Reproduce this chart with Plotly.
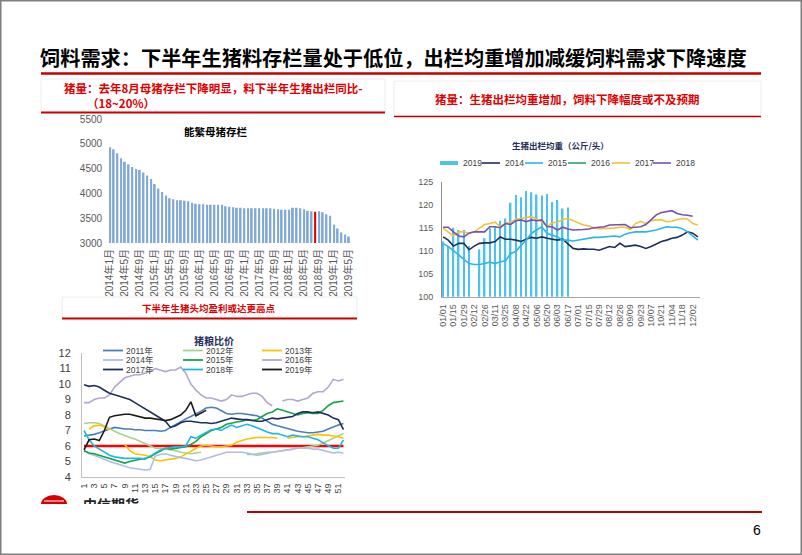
import plotly.graph_objects as go

W, H = 802, 555


def px(x):
    return x / W


def py(y):
    return 1 - y / H


CJK = "Noto Sans CJK SC"
NUM = "Liberation Sans, Noto Sans CJK SC"

# ---------------- texts ----------------
page_title = "饲料需求：下半年生猪料存栏量处于低位，出栏均重增加减缓饲料需求下降速度"
box1_line1 = "猪量：去年8月母猪存栏下降明显，料下半年生猪出栏同比-"
box1_line2 = "（18~20%）"
box2_text = "猪量：生猪出栏均重增加，饲料下降幅度或不及预期"
box3_text = "下半年生猪头均盈利或达更高点"
sow_title = "能繁母猪存栏"
pg_title = "猪粮比价"
wt_title = "生猪出栏均重（公斤/头）"
page_no = "6"
logo_text = "中信期货"

# ---------------- chart 1: 能繁母猪存栏 (万头) ----------------
sow_months = [f"{y}年{m}月" for y in range(2014, 2020) for m in range(1, 13)][:65]
sow_stock = [4930, 4890, 4810, 4710, 4640, 4590, 4530, 4490, 4470, 4420,
             4360, 4290, 4190, 4100, 4030, 3960, 3900, 3880, 3860, 3860,
             3850, 3840, 3810, 3790, 3780, 3780, 3770, 3770, 3770, 3770,
             3770, 3740, 3730, 3720, 3710, 3710, 3700, 3700, 3700, 3700,
             3700, 3700, 3700, 3700, 3690, 3680, 3670, 3670, 3670, 3710,
             3710, 3700, 3680, 3650, 3640, 3630, 3640, 3620, 3580, 3550,
             3370, 3290, 3210, 3170, 3130]
highlight_month = "2018年8月"
sow_ticks = sow_months[::4]
sow_yticks = [3000, 3500, 4000, 4500, 5000, 5500]

# ---------------- chart 2: 猪粮比价 ----------------
pg_weeks = list(range(1, 53))
pg_ticks = list(range(1, 52, 2))
pg_threshold = 6
N = None
pg_series = {
    "2011年": [6.65, 6.7, 6.75, 6.85, 7.0, 7.1, 7.2, 7.15, 7.1, 7.1, 7.05, 7.05, 7.0, 7.0, 7.0, 6.95,
              7.0, 7.2, 7.4, 7.55, 7.75, 7.9, 8.05, 8.25, 8.45, 8.5, 8.45, 8.3, 8.1, 8.05, 8.1, 8.1,
              8.05, 8.0, 7.95, 7.8, 7.6, 7.4, 7.3, 7.2, 7.1, 7.0, 6.95, 6.9, 6.85, 6.85, 6.9, 6.95,
              7.1, 7.25, 7.35, 7.45],
    "2012年": [7.45, 7.5, 7.5, 7.45, 7.3, 7.1, 6.95, 6.8, 6.65, 6.55, 6.45, 6.3, 6.1, 5.95, 5.85, 5.85,
              5.8, 5.75, 5.7, 5.6, 5.55, 5.5, 5.55, 5.6, N, N, N, N, N, N, N, N,
              5.45, 5.45, 5.5, 5.55, 5.6, 5.6, 5.65, 5.7, 5.75, 5.8, 5.85, 5.9, 5.95, 6.0, 6.05, 6.2,
              6.35, 6.5, 6.65, 6.8],
    "2013年": [N, 7.1, 7.3, 7.35, 7.25, 7.05, N, N, 6.1, 5.7, 5.5, 5.45, 5.4, 5.3, 5.1, 5.05,
              5.1, 5.15, 5.2, 5.3, 5.45, 5.65, 5.85, 6.0, 6.05, 6.0, 5.95, 5.95, 6.0, 6.05, 6.25, 6.35,
              6.45, 6.5, 6.55, 6.55, 6.55, 6.55, 6.5, N, 6.5, 6.55, 6.6, 6.6, 6.65, 6.7, 6.75, 6.7,
              6.7, 6.65, 6.6, 6.5],
    "2014年": [5.75, 5.5, 5.4, 5.3, 5.15, 5.0, 4.9, 4.75, 4.65, 4.6, 4.55, 4.5, 4.45, 4.5, 5.35, 5.45,
              5.5, 5.4, 5.3, 5.25, 5.2, 5.1, 5.05, 5.1, 5.2, 5.3, 5.4, 5.5, 5.6, 5.6, 5.6, 5.6,
              5.55, 5.45, 5.4, 5.45, 5.55, 5.6, 5.65, 5.7, 5.75, 5.8, 5.9, 5.85, 5.85, 5.8, 5.8, 5.7,
              5.6, 5.55, 5.6, 5.55],
    "2015年": [5.7, 5.55, 5.5, 5.4, 5.3, 5.2, 5.05, 5.0, 4.9, 5.0, 5.1, 5.15, 5.2, 5.3, 5.5, 5.7,
              5.85, 5.8, 5.85, 5.9, 5.95, 6.1, 6.3, 6.6, 6.8, 7.0, 7.1, 7.2, 7.4, 7.5, 7.55, 7.6,
              7.7, 7.65, 7.7, 7.9, 8.1, 8.2, 8.4, 8.3, 8.2, 8.05, 8.0, 8.1, 8.15, 8.1, 8.1, 8.3,
              8.6, 8.8, 8.85, 8.9],
    "2016年": [8.8, 8.8, 9.0, 9.1, 9.1, 9.3, 9.8, 10.1, 10.4, 10.5, 10.6, 10.6, 10.7, 10.8, 11.0, 10.9,
              10.8, 10.9, 10.9, 11.1, 10.7, 10.0, 9.6, 9.3, 9.1, 9.1, 9.0, 8.9, 9.0, 9.3, 9.2, 9.2,
              9.3, 9.4, 9.4, 9.2, 8.8, 8.6, N, 8.9, 9.0, 9.0, 8.9, 9.0, 9.1, 9.4, 9.5, 9.5,
              9.8, 10.3, 10.2, 10.3],
    "2017年": [9.95, 9.85, 9.9, 9.8, 9.6, 9.4, 9.3, 9.2, 9.15, 9.0, 8.8, 8.6, 8.4, 8.2, 8.0, 7.85,
              7.6, 7.2, 7.3, 7.5, 7.6, 7.6, 7.55, 7.5, 7.5, 7.45, 7.5, 7.6, 7.7, 7.8, 7.75, 7.7,
              7.7, 7.65, 7.6, 7.6, 7.7, 7.8, 7.75, 7.8, 7.85, 7.9, 8.1, 8.2, 8.2, 8.15, 8.2, 8.1,
              8.0, 7.8, 7.7, 7.05],
    "2018年": [7.0, 6.4, 6.0, 5.8, 5.6, 5.4, 5.3, 5.25, 5.2, 5.2, 5.2, 5.2, 5.15, 5.35, 5.6, 5.75,
              5.85, 5.9, 5.95, 5.95, 6.0, 6.6, 6.5, 6.7, 6.9, 7.05, 7.1, 7.0, 7.2, 7.35, 7.2, 7.3,
              7.4, 7.3, 7.2, 7.05, 6.9, 6.8, 6.8, 6.7, 6.6, 6.7, 6.65, 6.6, 6.6, 6.5, 6.4, 6.2,
              6.0, 5.85, 5.85, 6.4],
    "2019年": [5.75, 6.4, 6.45, 6.35, 7.0, 7.85, 7.95, 8.0, 8.05, 8.05, 7.95, 7.85, 7.8, 7.8, 7.75, 7.7,
              7.65, 7.7, 7.85, 8.0, 8.3, 8.85, 7.95, 8.1, 8.3],
}
pg_colors = {
    "2011年": "#4a7ebb", "2012年": "#a9d18e", "2013年": "#ffc000",
    "2014年": "#a9bfe8", "2015年": "#17a34a", "2016年": "#b4a7cf",
    "2017年": "#1f2f5c", "2018年": "#1cb8e3", "2019年": "#1a1a1a",
}

# ---------------- chart 3: 生猪出栏均重 ----------------
wt_weeks = ["01/01", "01/08", "01/15", "01/22", "01/29", "02/05", "02/12", "02/19", "02/26", "03/04",
            "03/11", "03/18", "03/25", "04/01", "04/08", "04/15", "04/22", "04/29", "05/06", "05/13",
            "05/20", "05/27", "06/03", "06/10", "06/17", "06/24", "07/01", "07/08", "07/15", "07/22",
            "07/29", "08/05", "08/12", "08/19", "08/26", "09/02", "09/09", "09/16", "09/23", "09/30",
            "10/07", "10/14", "10/21", "10/28", "11/04", "11/11", "11/18", "11/25", "12/02", "12/09"]
wt_ticks = wt_weeks[::2]
wt_yticks = [100, 105, 110, 115, 120, 125]
wt_2019 = [112.0, 111.0, 115.0, 114.5, 114.5, 111.0, None, 110.3, 112.7, 114.9,
           115.3, 116.5, 117.0, 120.4, 122.1, 121.6, 123.0, 122.7, 122.2, 122.0,
           122.3, 120.6, 121.0, 119.2, 119.4]
wt_lines = {
    "2014": [113.0, 112.3, 111.0, 111.6, 111.6, 110.2, 111.0, 111.6, 111.7, 111.7,
             112.0, 113.0, 112.5, 112.5, 112.3, 112.0, 112.5, 112.9, 112.7, 113.0,
             112.7, 112.5, 112.3, 112.5, 111.6, 110.5, 110.3, 110.4, 110.3, 110.3,
             110.1, 110.5, 110.9, 110.7, 111.6, 110.9, 111.1, 111.2, 110.9, 110.5,
             110.9, 111.4, 112.0, 112.3, 112.7, 112.9, 113.4, 114.1, 113.8, 113.0],
    "2015": [111.6, 110.9, 110.0, 109.1, 108.0, 107.2, 107.0, 107.0, 107.2, 107.5,
             107.2, 107.6, 107.8, 109.4, 109.8, 111.2, 112.3, 113.8, 114.5, 115.2,
             113.8, 113.4, 113.0, 112.3, 112.3, 112.1, 112.3, 112.5, 112.7, 112.9,
             112.9, 113.0, 113.2, 113.2, 113.0, 113.6, 113.9, 114.1, 114.1, 114.1,
             114.3, 114.5, 114.9, 115.2, 115.1, 115.1, 114.8, 114.1, 113.2, 112.3],
    "2016": [],
    "2017": [114.9, 114.1, 113.2, 114.1, 114.1, 113.8, 114.1, 114.9, 115.7, 115.9,
             116.2, 115.2, 115.9, 116.3, 116.8, 117.0, 117.2, 117.4, 116.8, 116.3,
             115.2, 116.1, 116.2, 116.8, 117.0, 116.5, 116.1, 115.6, 115.4, 115.0,
             114.8, 114.8, 114.9, 114.9, 115.1, 115.1, 114.6, 115.9, 116.4, 115.9,
             116.5, 116.7, 116.7, 116.3, 116.4, 116.8, 117.0, 116.9, 115.9, 115.6],
    "2018": [115.1, 115.1, 114.1, 113.2, 113.0, 113.8, 114.1, 114.1, 114.1, 115.2,
             115.2, 115.0, 115.9, 115.7, 116.5, 116.7, 116.3, 116.7, 116.5, 116.7,
             115.2, 115.2, 114.5, 115.1, 114.7, 114.5, 114.5, 114.6, 114.7, 115.0,
             115.1, 115.2, 115.6, 115.6, 115.6, 115.7, 115.0, 115.1, 115.2, 115.7,
             116.7, 117.8, 118.3, 118.5, 118.7, 118.1, 117.8, 117.7, 117.5],
}
wt_colors = {"2019": "#4cc3ee", "2014": "#1f2f5c", "2015": "#2bb6e8",
             "2016": "#2ca25f", "2017": "#f2c13a", "2018": "#7a4fb0"}

# ---------------- figure ----------------
fig = go.Figure()

bar_colors = ["#e00000" if m == highlight_month else "#7ea6d6" for m in sow_months]
fig.add_trace(go.Bar(x=sow_months, y=sow_stock, marker=dict(color=bar_colors, line=dict(width=0)),
                     width=0.45, xaxis="x", yaxis="y", hoverinfo="x+y"))

fig.add_trace(go.Scatter(x=[pg_weeks[0], pg_weeks[-1]], y=[pg_threshold, pg_threshold], mode="lines",
                         line=dict(color="#ff0000", width=2.6), xaxis="x2", yaxis="y2"))
for name, vals in pg_series.items():
    fig.add_trace(go.Scatter(x=pg_weeks[:len(vals)], y=vals, mode="lines", name=name,
                             line=dict(color=pg_colors[name], width=1.6), connectgaps=False,
                             xaxis="x2", yaxis="y2"))

fig.add_trace(go.Bar(x=wt_weeks[:len(wt_2019)], y=wt_2019, width=0.3, name="2019",
                     marker=dict(color=wt_colors["2019"], line=dict(width=0)), xaxis="x3", yaxis="y3"))
for name, vals in wt_lines.items():
    fig.add_trace(go.Scatter(x=wt_weeks[:len(vals)], y=vals, mode="lines", name=name,
                             line=dict(color=wt_colors[name], width=1.6), xaxis="x3", yaxis="y3"))

# clipped logo text
fig.add_trace(go.Scatter(x=[0.5], y=[-0.25], mode="text", text=[f"<b>{logo_text}</b>"],
                         textfont=dict(size=14, color="#222222", family=CJK), cliponaxis=True,
                         xaxis="x4", yaxis="y4", hoverinfo="skip"))

axis_common = dict(showgrid=False, zeroline=False, ticks="", automargin=False)
fig.update_layout(
    width=W, height=H, margin=dict(l=0, r=0, t=0, b=0, pad=0, autoexpand=False),
    paper_bgcolor="white", plot_bgcolor="rgba(0,0,0,0)", showlegend=False,
    bargap=0.5,
    xaxis=dict(axis_common, domain=[px(108.1), px(350.8)], type="category",
               categoryorder="array", categoryarray=sow_months,
               tickvals=sow_ticks, tickangle=-90, showline=False,
               tickfont=dict(size=10, color="#595959", family=NUM), anchor="y",
               ticklabelstandoff=3),
    yaxis=dict(axis_common, domain=[py(243), py(119)], range=[3000, 5500], tickvals=sow_yticks,
               showline=False, tickfont=dict(size=10, color="#595959", family=NUM), anchor="x",
               ticklabelstandoff=5),
    xaxis2=dict(axis_common, domain=[px(82), px(345)], range=[0.6, 52.3], tickvals=pg_ticks,
                tickangle=-90, showline=True, linecolor="#bfbfbf", linewidth=1,
                tickfont=dict(size=9, color="#404040", family=NUM), anchor="y2",
                ticklabelstandoff=2),
    yaxis2=dict(axis_common, domain=[py(477), py(353)], range=[4, 12], dtick=1,
                showline=True, linecolor="#bfbfbf", linewidth=1,
                tickfont=dict(size=11, color="#404040", family=NUM), anchor="x2",
                ticklabelstandoff=8),
    xaxis3=dict(axis_common, domain=[px(442), px(700)], type="category",
                categoryorder="array", categoryarray=wt_weeks, range=[-0.2, 49.4],
                tickvals=wt_ticks, tickangle=-90, showline=True, linecolor="#a6a6a6",
                tickfont=dict(size=9, color="#595959", family=NUM), anchor="y3",
                ticklabelstandoff=3),
    yaxis3=dict(axis_common, domain=[py(296.7), py(181.7)], range=[100, 125], tickvals=wt_yticks,
                showline=True, linecolor="#8c8c8c",
                tickfont=dict(size=9, color="#595959", family=NUM), anchor="x3",
                ticklabelstandoff=6),
    xaxis4=dict(domain=[px(72), px(150)], range=[0, 1], visible=False, anchor="y4"),
    yaxis4=dict(domain=[py(504), py(494)], range=[0, 1], visible=False, anchor="x4"),
)


def ann(x, y, text, size, color="#000000", xanchor="center", family=CJK, bold=False, pad=1):
    fig.add_annotation(xref="paper", yref="paper", x=px(x), y=py(y),
                       text=f"<b>{text}</b>" if bold else text, showarrow=False,
                       xanchor=xanchor, yanchor="middle", borderpad=pad,
                       font=dict(size=size, color=color, family=family))


def hline(x0, x1, y, color, width):
    fig.add_shape(type="line", xref="paper", yref="paper", x0=px(x0), x1=px(x1),
                  y0=py(y), y1=py(y), line=dict(color=color, width=width))


def rect(x0, y0, x1, y1, line_color, fill="rgba(0,0,0,0)", width=1):
    fig.add_shape(type="rect", xref="paper", yref="paper", x0=px(x0), x1=px(x1),
                  y0=py(y1), y1=py(y0), line=dict(color=line_color, width=width), fillcolor=fill)


# frame
fig.add_shape(type="rect", xref="paper", yref="paper", x0=0, x1=1, y0=0, y1=1,
              line=dict(color="#7f7f7f", width=3))

# title
ann(38, 57, page_title, 20.2, "#000000", xanchor="left", bold=True)
hline(41, 761, 73.5, "#c00000", 2.5)

# boxes
rect(41, 79, 385, 112, "#ececec")
hline(41, 385, 112.5, "#d00000", 2)
ann(62, 88, box1_line1, 11.5, "#e00000", xanchor="left", bold=True)
ann(85, 103, box1_line2, 11.5, "#e00000", xanchor="left", bold=True)

rect(394, 81, 761, 116, "#ececec")
hline(394, 761, 116.5, "#c00000", 1.5)
ann(567, 99, box2_text, 11.5, "#e00000", bold=True)

rect(62, 297, 357, 318, "#ececec")
hline(62, 357, 318.5, "#d00000", 2)
ann(209, 308, box3_text, 9.5, "#e00000", bold=True)

# chart titles
ann(216, 131, sow_title, 10.5, "#000000", bold=True)
ann(214, 340, pg_title, 10, "#1f2f5c", bold=True, pad=0)
ann(560, 145, wt_title, 8.5, "#1f2f5c", bold=True)

# legend for 猪粮比价
pg_cols = [103, 183, 262]
pg_rows = [350.5, 360, 369.5]
for i, name in enumerate(pg_series):
    lx, ly = pg_cols[i % 3], pg_rows[i // 3]
    hline(lx, lx + 20, ly, pg_colors[name], 1.8)
    ann(lx + 22, ly, name, 8.5, "#404040", xanchor="left", family=NUM, pad=0)

# legend for 出栏均重
wt_leg_x = [440, 482, 525, 568, 612, 653]
for lx, name in zip(wt_leg_x, wt_colors):
    hline(lx, lx + 18, 163, wt_colors[name], 4 if name == "2019" else 1.6)
    ann(lx + 21, 163, name, 8.5, "#404040", xanchor="left", family=NUM)

# logo dome
fig.add_shape(type="circle", xref="paper", yref="paper", x0=px(41), x1=px(67), y0=py(513), y1=py(495),
              fillcolor="#d40000", line=dict(width=0))
fig.add_shape(type="rect", xref="paper", yref="paper", x0=px(38), x1=px(70), y0=py(517), y1=py(504),
              fillcolor="white", line=dict(width=0))
hline(44, 64, 501, "white", 1)

# bottom line and page number
hline(247, 762, 512, "#c00000", 2)
ann(757, 530, page_no, 14, "#000000", family=NUM)

fig.write_html("out.html", config={"displayModeBar": False},
               post_script="document.body.style.margin='0';document.body.style.overflow='hidden';")
